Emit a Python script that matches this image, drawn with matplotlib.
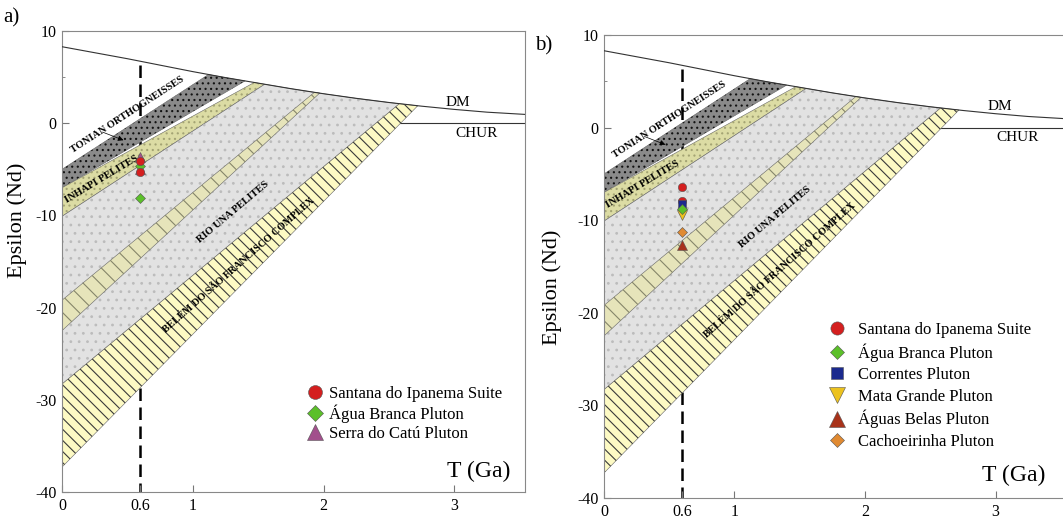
import matplotlib
matplotlib.use("Agg")
import matplotlib.pyplot as plt
import numpy as np
from matplotlib.patches import Polygon
from matplotlib.lines import Line2D

plt.rcParams['font.family'] = ['Liberation Serif', 'DejaVu Serif']
plt.rcParams['hatch.linewidth'] = 0.8
plt.rcParams['axes.unicode_minus'] = False

# depleted mantle curve (T in Ga, epsilon Nd)
dm_T = [0.0, 0.25, 0.5, 0.75, 1.0, 1.25, 1.5, 1.75, 2.0, 2.25, 2.5, 2.75, 3.0, 3.25, 3.55]
dm_eps = [8.3, 7.65, 7.0, 6.3, 5.6, 4.95, 4.35, 3.75, 3.2, 2.7, 2.25, 1.85, 1.5, 1.2, 0.95]

# bands: epsilon at T=0 for upper / lower edge, and T where each edge meets DM
band_names = ['tonian', 'inhapi', 'rio_una', 'rio_una_strip', 'belem']
band_eps_up = [-5.0, -7.0, -10.1, -19.2, -28.3]
band_T_up = [1.12, 1.47, 1.55, 1.93, 2.58]
band_eps_lo = [-7.0, -10.1, -28.3, -22.5, -37.3]
band_T_lo = [1.40, 1.55, 2.58, 1.97, 2.72]
band_fill = ['#8a8a8a', '#dcdca4', '#e2e2e2', '#e6e4ba', '#fdfac4']
band_hatch = ['...', '...', '..', '\\\\', '\\\\\\']
band_hatch_col = ['#111111', '#a4a474', '#bcbcbc', '#85856a', '#3a3a3a']

band_labels = ['TONIAN ORTHOGNEISSES', 'INHAPI PELITES', 'RIO UNA PELITES',
               'BELÉM DO SÃO FRANCISCO COMPLEX']
band_label_T = [0.50, 0.30, 1.31, 1.35]
band_label_eps = [0.9, -6.1, -9.65, -15.4]
band_label_rot = [33, 31, 40, 41.5]

# samples, panel a
a_names = ['Santana do Ipanema Suite', 'Água Branca Pluton', 'Serra do Catú Pluton']
a_eps = [[-4.1, -5.3], [-4.6, -8.1], [-3.7, -5.0]]
a_markers = ['o', 'D', '^']
a_colors = ['#d41f1f', '#5cc02a', '#a24f8c']
a_order = [2, 1, 0]

# samples, panel b
b_names = ['Santana do Ipanema Suite', 'Água Branca Pluton', 'Correntes Pluton',
           'Mata Grande Pluton', 'Águas Belas Pluton', 'Cachoeirinha Pluton']
b_eps = [[-6.45, -7.9], [-8.8], [-8.2], [-9.4], [-12.65], [-11.3]]
b_markers = ['o', 'D', 's', 'v', '^', 'D']
b_colors = ['#d41f1f', '#5cc02a', '#1b2a8e', '#ecc21e', '#a8321a', '#e08a32']
b_order = [0, 2, 3, 1, 5, 4]

t_sample = 0.6
ms_scale = {'o': 1.0, 'D': 0.78, 's': 0.9, '^': 1.15, 'v': 1.15}


def draw_base(ax):
    for i in range(len(band_names)):
        tt = np.linspace(band_T_up[i], band_T_lo[i], 30)
        top = np.interp(tt, dm_T, dm_eps)
        xy = np.column_stack([np.r_[0, tt, 0], np.r_[band_eps_up[i], top, band_eps_lo[i]]])
        ax.add_patch(Polygon(xy, closed=True, facecolor=band_fill[i],
                             edgecolor='#666666', lw=0.4, zorder=2))
        ax.add_patch(Polygon(xy, closed=True, facecolor='none', hatch=band_hatch[i],
                             edgecolor=band_hatch_col[i], lw=0, zorder=2))

    ax.plot(dm_T, dm_eps, color='#333333', lw=0.8, zorder=3)
    ax.plot([2.5, 3.6], [0, 0], color='#333333', lw=0.8, zorder=1)
    ax.plot([t_sample, t_sample], [6.3, -40], color='black', lw=1.8,
            dashes=(5, 2.6), zorder=1)

    for lab, x, y, r in zip(band_labels, band_label_T, band_label_eps, band_label_rot):
        ax.text(x, y, lab, rotation=r, ha='center', va='center', fontsize=7.5,
                fontweight='bold', zorder=5, rotation_mode='anchor')
    ax.annotate('', xy=(0.49, -1.95), xytext=(0.29, -0.85),
                arrowprops=dict(arrowstyle='-|>', color='black', lw=0.5,
                                mutation_scale=8), zorder=5)

    ax.text(3.03, 2.25, 'DM', fontsize=11, ha='center', va='center')
    ax.text(3.17, -1.1, 'CHUR', fontsize=11, ha='center', va='center')

    ax.set_xlim(0, 3.54)
    ax.set_ylim(-40, 10)
    ax.set_xticks([0, 0.6, 1, 2, 3])
    ax.set_xticklabels(['0', '0.6', '1', '2', '3'])
    ax.set_yticks([10, 0, -10, -20, -30, -40])
    ax.set_yticks([5, -5, -15, -25, -35], minor=True)
    ax.tick_params(direction='in', length=5, width=0.8, color='#777777',
                   labelsize=11.5, pad=4)
    ax.tick_params(which='minor', direction='in', length=2.5, width=0.6, color='#777777')
    for s in ax.spines.values():
        s.set_color('#888888')
        s.set_linewidth(0.8)
    ax.set_ylabel('Epsilon (Nd)', fontsize=16)


def draw_points(ax, eps, markers, colors, order):
    for i in order:
        ax.plot([t_sample] * len(eps[i]), eps[i], linestyle='none', marker=markers[i],
                ms=6 * ms_scale[markers[i]], mfc=colors[i], mec='#555555', mew=0.4,
                zorder=6)


def legend_handles(markers, colors, size):
    return [Line2D([], [], ls='none', marker=m, ms=size * ms_scale[m], mfc=c,
                   mec='#555555', mew=0.4) for m, c in zip(markers, colors)]


fig = plt.figure(figsize=(10.63, 5.2), dpi=100)
ax1 = fig.add_axes([0.0583, 0.0538, 0.4356, 0.8865])
ax2 = fig.add_axes([0.5682, 0.0423, 0.4346, 0.8904])

for ax in (ax1, ax2):
    draw_base(ax)

draw_points(ax1, a_eps, a_markers, a_colors, a_order)
draw_points(ax2, b_eps, b_markers, b_colors, b_order)

ax1.yaxis.set_label_coords(-0.076, 0.59)
ax2.yaxis.set_label_coords(-0.09, 0.454)

ax1.text(3.43, -38.4, 'T (Ga)', fontsize=17, ha='right', va='baseline')
ax2.text(3.38, -38.2, 'T (Ga)', fontsize=17, ha='right', va='baseline')

ax1.legend(legend_handles(a_markers, a_colors, 10), a_names, loc='upper left',
           bbox_to_anchor=(1.87, -28.5), bbox_transform=ax1.transData,
           frameon=False, fontsize=12, handlelength=1.0, handletextpad=0.35,
           labelspacing=0.17, borderpad=0, borderaxespad=0)

ax2.legend(legend_handles(b_markers, b_colors, 9.5), b_names, loc='upper left',
           bbox_to_anchor=(1.72, -21.0), bbox_transform=ax2.transData,
           frameon=False, fontsize=12, handlelength=1.0, handletextpad=0.75,
           labelspacing=0.32, borderpad=0, borderaxespad=0)

fig.text(0.003, 0.985, 'a)', fontsize=15, ha='left', va='top')
fig.text(0.503, 0.93, 'b)', fontsize=15, ha='left', va='top')

fig.savefig('out.png', dpi=100)
